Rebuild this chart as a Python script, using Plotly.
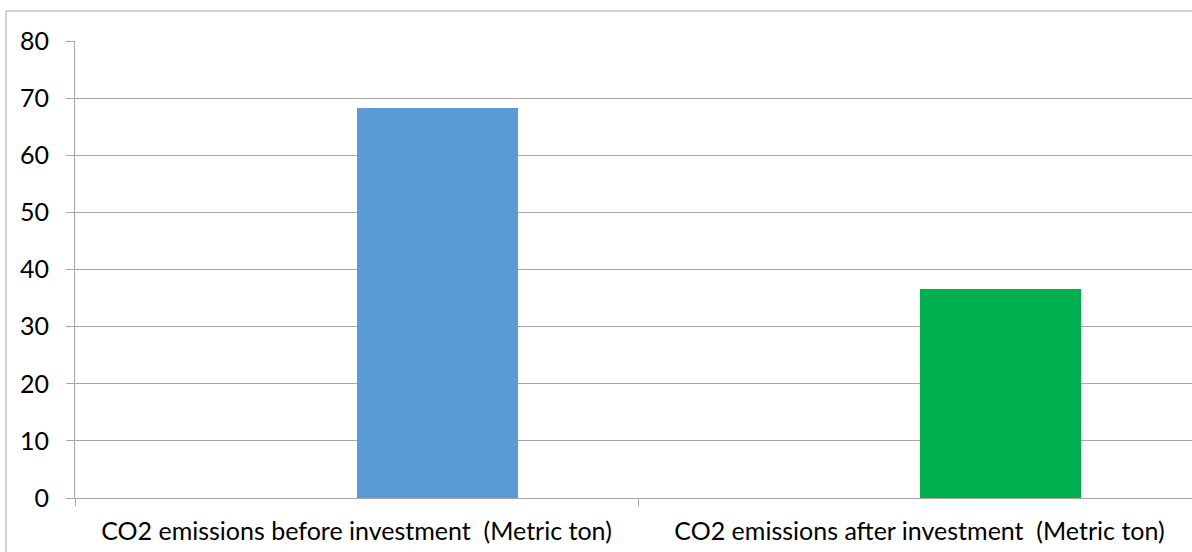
import plotly.graph_objects as go

categories = ["CO2 emissions before investment \u00a0(Metric ton)",
              "CO2 emissions after investment \u00a0(Metric ton)"]
values = [68.3, 36.6]
bar_colors = ["#5B9BD5", "#00B050"]
y_ticks = [0, 10, 20, 30, 40, 50, 60, 70, 80]

W, H = 1192, 552
L, T, B = 75, 41, 54
pw = W - L
ph = H - T - B

fig = go.Figure()
fig.add_trace(go.Bar(
    x=categories, y=values,
    marker=dict(color=bar_colors, line=dict(width=0)),
    width=0.286, offset=0,
    hoverinfo="y",
))

font = dict(family="Lato, Carlito, Calibri, sans-serif", size=25, color="#000000")

fig.update_layout(
    width=W, height=H,
    margin=dict(l=L, r=0, t=T, b=B, pad=0),
    plot_bgcolor="white", paper_bgcolor="white",
    showlegend=False,
    font=font,
    xaxis=dict(
        type="category",
        range=[-0.5, 1.5 - 9 / 563],
        showgrid=False, zeroline=False,
        showline=True, linecolor="#A6A6A6", linewidth=1,
        ticks="outside", ticklen=7, tickcolor="#A6A6A6",
        tickson="boundaries",
        ticklabelstandoff=11,
        tickfont=font,
    ),
    yaxis=dict(
        range=[0, 80], tickvals=y_ticks,
        showgrid=True, gridcolor="#A6A6A6", gridwidth=1,
        zeroline=False,
        showline=True, linecolor="#A6A6A6", linewidth=1,
        ticks="outside", ticklen=8, tickcolor="#A6A6A6",
        ticklabelstandoff=12,
        tickfont=font,
    ),
    bargap=0,
)

# outer chart border
fig.add_shape(type="rect", xref="paper", yref="paper",
              x0=(6 - L) / pw, y0=(H - B - 560) / ph,
              x1=(1210 - L) / pw, y1=(H - B - 11) / ph,
              line=dict(color="#A6A6A6", width=1), layer="below")

fig.write_html("out.html")
